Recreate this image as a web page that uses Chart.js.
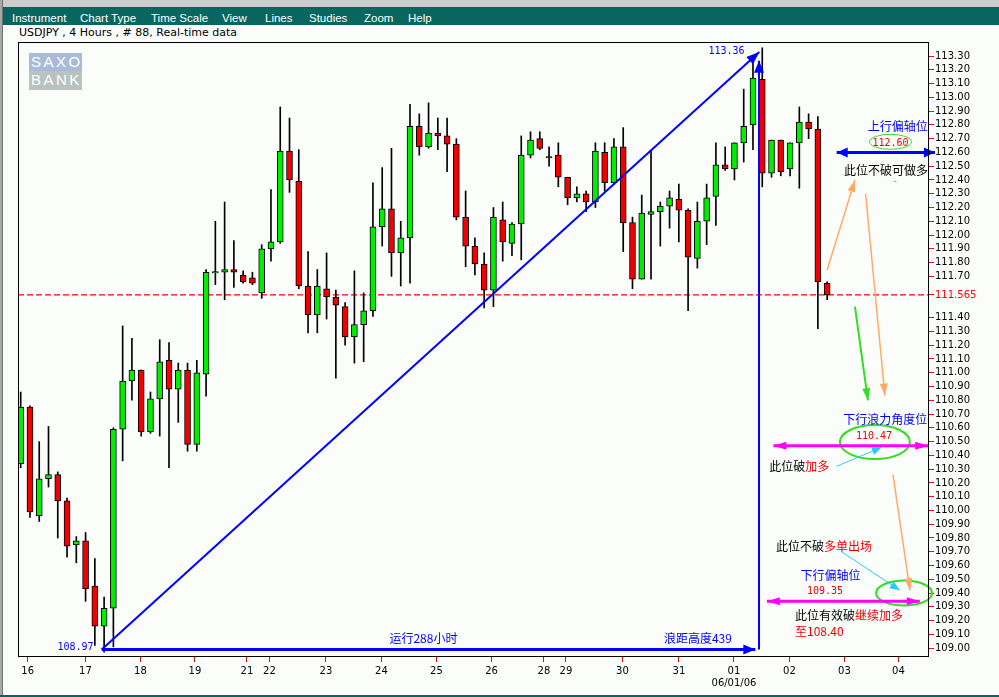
<!DOCTYPE html>
<html>
<head>
<meta charset="utf-8">
<script src="https://cdn.jsdelivr.net/npm/chart.js@4.4.1/dist/chart.umd.min.js"></script>
<style>
  body { margin: 0; width: 999px; height: 697px; overflow: hidden; background: #fbfdfb; position: relative; }
  #topbar { position: absolute; left: 0; top: 0; width: 999px; height: 7px; background: #cdcdcd; }
  #menu { position: absolute; left: 0; top: 7px; width: 999px; height: 18px; background: #07665f; color: #fff; font: 11.5px "Liberation Sans", sans-serif; }
  #menu span { position: absolute; top: 5px; }
  #title { position: absolute; left: 19px; top: 26px; font: 11px "DejaVu Sans", sans-serif; color: #000; white-space: pre; }
  #lframe { position: absolute; left: 0; top: 0; width: 2px; height: 697px; background: #a8a8a8; border-right: 1px solid #707070; }
  #bframe { position: absolute; left: 0; top: 695px; width: 999px; height: 2px; background: #07665f; }
  #logo { position: absolute; left: 29px; top: 53px; width: 53px; height: 37px; font: 15px "Liberation Sans", sans-serif; color: #fff; }
  #logo div { height: 18px; line-height: 18px; padding-left: 2px; letter-spacing: 2.5px; }
  #chart { position: absolute; left: 0; top: 0; }
</style>
</head>
<body>
<div id="topbar"></div>
<div id="menu">
  <span style="left:12px">Instrument</span>
  <span style="left:80px">Chart Type</span>
  <span style="left:151px">Time Scale</span>
  <span style="left:222px">View</span>
  <span style="left:265px">Lines</span>
  <span style="left:309px">Studies</span>
  <span style="left:364px">Zoom</span>
  <span style="left:408px">Help</span>
</div>
<div id="title">USDJPY , 4 Hours , # 88, Real-time data</div>
<div id="lframe"></div>
<div id="bframe"></div>
<div id="logo"><div style="background:#a9bbd8">SAXO</div><div style="background:#b9c1c1;height:19px">BANK</div></div>
<canvas id="chart" width="999" height="697"></canvas>
<script>
// USDJPY 4h candles, one per bar
const opens  = [110.34,110.75,109.96,110.23,110.26,110.07,109.75,109.78,109.45,109.16,
                109.29,110.59,110.94,111.02,110.57,110.81,111.09,110.88,111.02,110.48,
                110.99,111.725,111.73,111.75,111.71,111.69,111.58,111.90,111.95,112.61,
                112.39,111.63,111.42,111.61,111.55,111.48,111.26,111.35,111.45,112.06,
                112.19,111.87,111.98,112.79,112.64,112.74,112.72,112.66,112.13,111.92,
                111.79,111.60,112.11,111.94,112.08,112.58,112.70,112.57,112.58,112.42,
                112.27,112.30,112.24,112.60,112.38,112.64,112.09,111.68,112.15,112.17,
                112.21,112.26,112.18,111.83,112.10,112.28,112.51,112.48,112.67,112.80,
                113.13,112.45,112.69,112.48,112.67,112.82,112.77,111.65];
const highs  = [110.86,110.76,110.50,110.61,110.28,110.09,109.81,109.84,109.65,109.37,
                110.60,111.34,111.25,111.02,110.86,111.24,111.22,111.07,111.07,111.09,
                111.75,112.10,112.24,111.96,111.74,111.73,111.93,112.33,112.93,112.85,
                112.62,111.88,111.75,111.87,111.60,111.51,111.74,111.58,112.38,112.49,
                112.63,112.10,112.95,112.88,112.96,112.85,112.85,112.70,112.32,111.98,
                111.87,112.20,112.24,112.09,112.72,112.75,112.75,112.64,112.67,112.42,
                112.35,112.32,112.67,112.67,112.70,112.78,112.13,112.29,112.61,112.24,
                112.32,112.37,112.19,112.24,112.37,112.67,112.64,112.67,113.06,113.25,
                113.36,112.69,112.69,112.67,112.93,112.88,112.86,111.66];
const lows   = [110.31,109.95,109.92,110.17,109.80,109.66,109.62,109.34,109.02,108.97,
                109.01,110.36,110.80,110.54,110.56,110.54,110.31,110.64,110.43,110.43,
                110.83,111.64,111.53,111.62,111.65,111.64,111.54,111.81,111.94,112.31,
                111.61,111.29,111.29,111.39,110.96,111.20,111.07,111.08,111.41,111.92,
                111.70,111.63,111.65,112.58,112.63,112.62,112.46,112.11,111.77,111.71,
                111.47,111.48,111.81,111.85,111.82,112.56,112.62,112.50,112.35,112.22,
                112.24,112.17,112.20,112.32,112.37,111.88,111.61,111.68,111.68,111.92,
                112.05,111.95,111.45,111.76,111.93,112.07,112.47,112.40,112.53,112.62,
                112.35,112.42,112.43,112.43,112.34,112.70,111.32,111.53];
const closes = [110.75,109.99,110.23,110.26,110.07,109.74,109.78,109.43,109.16,109.29,
                110.59,110.94,111.02,110.57,110.81,111.08,110.88,111.02,110.48,111.00,
                111.73,111.735,111.75,111.73,111.66,111.65,111.90,111.95,112.61,112.40,
                111.63,111.42,111.63,111.55,111.49,111.26,111.35,111.45,112.06,112.19,
                111.87,111.98,112.79,112.64,112.74,112.72,112.66,112.13,111.92,111.79,
                111.60,112.13,111.95,112.08,112.58,112.69,112.63,112.56,112.42,112.27,
                112.30,112.24,112.61,112.38,112.64,112.09,111.68,112.16,112.17,112.21,
                112.27,112.18,111.84,112.10,112.27,112.51,112.48,112.67,112.79,113.14,
                112.45,112.69,112.46,112.67,112.82,112.77,111.66,111.565];

// day ticks on the time axis (in bar units) and their labels
const dayTickPos = [0.76, 6.99, 12.92, 18.80, 24.41, 26.84, 32.93, 38.92, 44.85,
                    50.79, 56.45, 58.82, 64.92, 71.01, 76.95, 82.93, 88.87, 94.69];
const dayLabels  = ['16','17','18','19','21','22','23','24','25',
                    '26','28','29','30','31','01','02','03','04'];
const monthMark = '06/01/06';

// price axis ticks
const priceTicks = [109.00,109.10,109.20,109.30,109.40,109.50,109.60,109.70,109.80,109.90,
                    110.00,110.10,110.20,110.30,110.40,110.50,110.60,110.70,110.80,110.90,
                    111.00,111.10,111.20,111.30,111.40,111.565,111.70,111.80,111.90,
                    112.00,112.10,112.20,112.30,112.40,112.50,112.60,112.70,112.80,112.90,
                    113.00,113.10,113.20,113.30];
const lastPrice = 111.565;

const X_MIN = -0.29, X_MAX = 97.88;
const Y_MIN = 108.943, Y_MAX = 113.402;

const GREEN = '#00ee00', RED = '#f20000';
const BLUE = '#0000ff', MAGENTA = '#ff00ff', CYAN = '#22ccff', ORANGE = '#ffaa66', LGREEN = '#33dd22';

// drawn lines (bar units / price)
const arrows = [
  { from: [8.74, 108.99], to: [79.68, 113.33], color: BLUE, width: 2, heads: 'end', len: 13, half: 5 },
  { from: [8.74, 108.99], to: [79.25, 108.99], color: BLUE, width: 3, heads: 'end', len: 12, half: 5 },
  { from: [79.65, 108.99], to: [79.65, 113.266], color: BLUE, width: 2, heads: 'end', len: 12, half: 5 },
  { from: [88.03, 112.60], to: [98.63, 112.60], color: BLUE, width: 3, heads: 'both', len: 11, half: 5 },
  { from: [87.0, 111.746], to: [90.0, 112.40], color: ORANGE, width: 1.5, heads: 'end', len: 12, half: 4 },
  { from: [91.15, 112.30], to: [93.23, 110.835], color: ORANGE, width: 1.5, heads: 'end', len: 12, half: 4 },
  { from: [90.0, 111.48], to: [91.4, 110.80], color: LGREEN, width: 2, heads: 'end', len: 12, half: 4 },
  { from: [81.2, 110.47], to: [97.9, 110.47], color: MAGENTA, width: 3, heads: 'both', len: 13, half: 4 },
  { from: [88.0, 110.32], to: [92.9, 110.46], color: CYAN, width: 1, heads: 'end', len: 10, half: 4 },
  { from: [94.1, 110.26], to: [95.94, 109.42], color: ORANGE, width: 1.5, heads: 'end', len: 12, half: 4 },
  { from: [88.55, 109.70], to: [94.84, 109.42], color: CYAN, width: 1, heads: 'end', len: 10, half: 4 },
  { from: [80.5, 109.34], to: [97.0, 109.34], color: MAGENTA, width: 3, heads: 'both', len: 13, half: 4 }
];

const ellipses = [
  { at: [93.83, 112.677], rx: 21, ry: 7.5, width: 1 },
  { at: [92.15, 110.497], rx: 35, ry: 17, width: 2 },
  { at: [95.3, 109.40], rx: 28, ry: 12.5, width: 2 }
];

const CJK = '12px "Noto Sans CJK SC", sans-serif';
const NUM = '10px "DejaVu Sans Mono", monospace';
const notes = [
  { at: [76.14, 113.336], align: 'center', font: NUM, parts: [['113.36', BLUE]] },
  { at: [5.91, 109.008], align: 'center', font: NUM, parts: [['108.97', BLUE]] },
  { at: [43.45, 109.074], align: 'center', font: CJK, parts: [['运行288小时', BLUE]] },
  { at: [73.06, 109.074], align: 'center', font: CJK, parts: [['浪距高度439', BLUE]] },
  { at: [94.61, 112.788], align: 'center', font: CJK, parts: [['上行偏轴位', BLUE]] },
  { at: [93.83, 112.668], align: 'center', font: NUM, parts: [['112.60', RED]] },
  { at: [93.35, 112.472], align: 'center', font: CJK, parts: [['此位不破可做多', '#000']] },
  { at: [94.35, 112.387], align: 'center', font: NUM, parts: [['-', LGREEN]] },
  { at: [93.27, 110.662], align: 'center', font: CJK, parts: [['下行浪力角度位', BLUE]] },
  { at: [92.05, 110.54], align: 'center', font: NUM, parts: [['110.47', RED]] },
  { at: [80.75, 110.317], align: 'left', font: CJK, parts: [['此位破', '#000'], ['加多', RED]] },
  { at: [81.47, 109.737], align: 'left', font: CJK, parts: [['此位不破', '#000'], ['多单出场', RED]] },
  { at: [87.36, 109.531], align: 'center', font: CJK, parts: [['下行偏轴位', BLUE]] },
  { at: [86.77, 109.415], align: 'center', font: NUM, parts: [['109.35', RED]] },
  { at: [83.53, 109.240], align: 'left', font: CJK, parts: [['此位有效破', '#000'], ['继续加多', RED]] },
  { at: [83.53, 109.119], align: 'left', font: CJK, parts: [['至108.40', RED]] }
];

function head(ctx, x1, y1, x2, y2, len, half) {
  const a = Math.atan2(y2 - y1, x2 - x1);
  const bx = x2 - len * Math.cos(a), by = y2 - len * Math.sin(a);
  ctx.beginPath();
  ctx.moveTo(x2, y2);
  ctx.lineTo(bx + half * Math.sin(a), by - half * Math.cos(a));
  ctx.lineTo(bx - half * Math.sin(a), by + half * Math.cos(a));
  ctx.closePath();
  ctx.fill();
}

const framePlugin = {
  id: 'frame',
  afterDraw(chart) {
    const { ctx, chartArea: a } = chart;
    ctx.save();
    ctx.strokeStyle = '#000';
    ctx.lineWidth = 1;
    ctx.strokeRect(Math.round(a.left) + 0.5, Math.round(a.top) + 0.5, Math.round(a.right - a.left), Math.round(a.bottom - a.top));
    ctx.restore();
  }
};

const markupPlugin = {
  id: 'markup',
  afterDatasetsDraw(chart) {
    const { ctx } = chart;
    const xs = chart.scales.x, ys = chart.scales.y;
    ctx.save();
    ellipses.forEach(e => {
      ctx.beginPath();
      ctx.strokeStyle = LGREEN;
      ctx.lineWidth = e.width;
      ctx.ellipse(xs.getPixelForValue(e.at[0]), ys.getPixelForValue(e.at[1]), e.rx, e.ry, 0, 0, Math.PI * 2);
      ctx.stroke();
    });
    arrows.forEach(ar => {
      const x1 = xs.getPixelForValue(ar.from[0]), y1 = ys.getPixelForValue(ar.from[1]);
      const x2 = xs.getPixelForValue(ar.to[0]), y2 = ys.getPixelForValue(ar.to[1]);
      ctx.strokeStyle = ar.color;
      ctx.fillStyle = ar.color;
      ctx.lineWidth = ar.width;
      ctx.beginPath();
      ctx.moveTo(x1, y1);
      ctx.lineTo(x2, y2);
      ctx.stroke();
      head(ctx, x1, y1, x2, y2, ar.len, ar.half);
      if (ar.heads === 'both') head(ctx, x2, y2, x1, y1, ar.len, ar.half);
    });
    ctx.textBaseline = 'middle';
    notes.forEach(n => {
      ctx.font = n.font;
      const total = n.parts.reduce((s, p) => s + ctx.measureText(p[0]).width, 0);
      let x = xs.getPixelForValue(n.at[0]);
      const y = ys.getPixelForValue(n.at[1]);
      if (n.align === 'center') x -= total / 2;
      ctx.textAlign = 'left';
      n.parts.forEach(p => {
        ctx.fillStyle = p[1];
        ctx.fillText(p[0], x, y);
        x += ctx.measureText(p[0]).width;
      });
    });
    ctx.restore();
  }
};

Chart.defaults.font.family = '"DejaVu Sans", sans-serif';
Chart.defaults.font.size = 10;
Chart.defaults.color = '#000';

new Chart(document.getElementById('chart'), {
  type: 'bar',
  data: {
    datasets: [
      {
        label: 'body',
        data: opens.map((o, i) => ({ x: i, y: [o, closes[i]] })),
        backgroundColor: opens.map((o, i) => closes[i] >= o ? GREEN : RED),
        borderColor: '#000',
        borderWidth: 1,
        borderSkipped: false,
        barThickness: 6,
        grouped: false
      },
      {
        label: 'wick',
        data: lows.map((l, i) => ({ x: i, y: [l, highs[i]] })),
        backgroundColor: '#000',
        borderWidth: 0,
        barThickness: 1,
        grouped: false
      },
      {
        type: 'line',
        label: 'last',
        data: [{ x: X_MIN, y: lastPrice }, { x: X_MAX, y: lastPrice }],
        borderColor: '#ff0000',
        borderWidth: 1.3,
        borderDash: [6, 3],
        pointRadius: 0
      }
    ]
  },
  options: {
    responsive: false,
    animation: false,
    layout: { padding: { left: 18, top: 42, right: 5, bottom: 6 } },
    plugins: { legend: { display: false }, tooltip: { enabled: false } },
    scales: {
      x: {
        type: 'linear',
        min: X_MIN,
        max: X_MAX,
        offset: false,
        afterBuildTicks: s => { s.ticks = dayTickPos.map(v => ({ value: v })); },
        afterFit: s => { s.height = 35; },
        grid: { display: true, drawOnChartArea: false, offset: false, tickLength: 6, tickColor: '#ff0000', tickWidth: 1 },
        border: { display: true, color: '#000' },
        ticks: {
          autoSkip: false,
          maxRotation: 0,
          padding: 3,
          callback: (v, i) => dayLabels[i] === '01' ? ['01', monthMark] : dayLabels[i]
        }
      },
      y: {
        type: 'linear',
        position: 'right',
        min: Y_MIN,
        max: Y_MAX,
        afterBuildTicks: s => { s.ticks = priceTicks.map(v => ({ value: v })); },
        afterFit: s => { s.width = 66; },
        grid: { display: true, drawOnChartArea: false, tickLength: 6, tickColor: '#ff0000', tickWidth: 1 },
        border: { display: true, color: '#000' },
        ticks: {
          autoSkip: false,
          padding: 1,
          color: c => c.tick && c.tick.value === lastPrice ? '#ff0000' : '#000',
          callback: v => v === lastPrice ? '111.565' : v.toFixed(2)
        }
      }
    }
  },
  plugins: [framePlugin, markupPlugin]
});
</script>
</body>
</html>
